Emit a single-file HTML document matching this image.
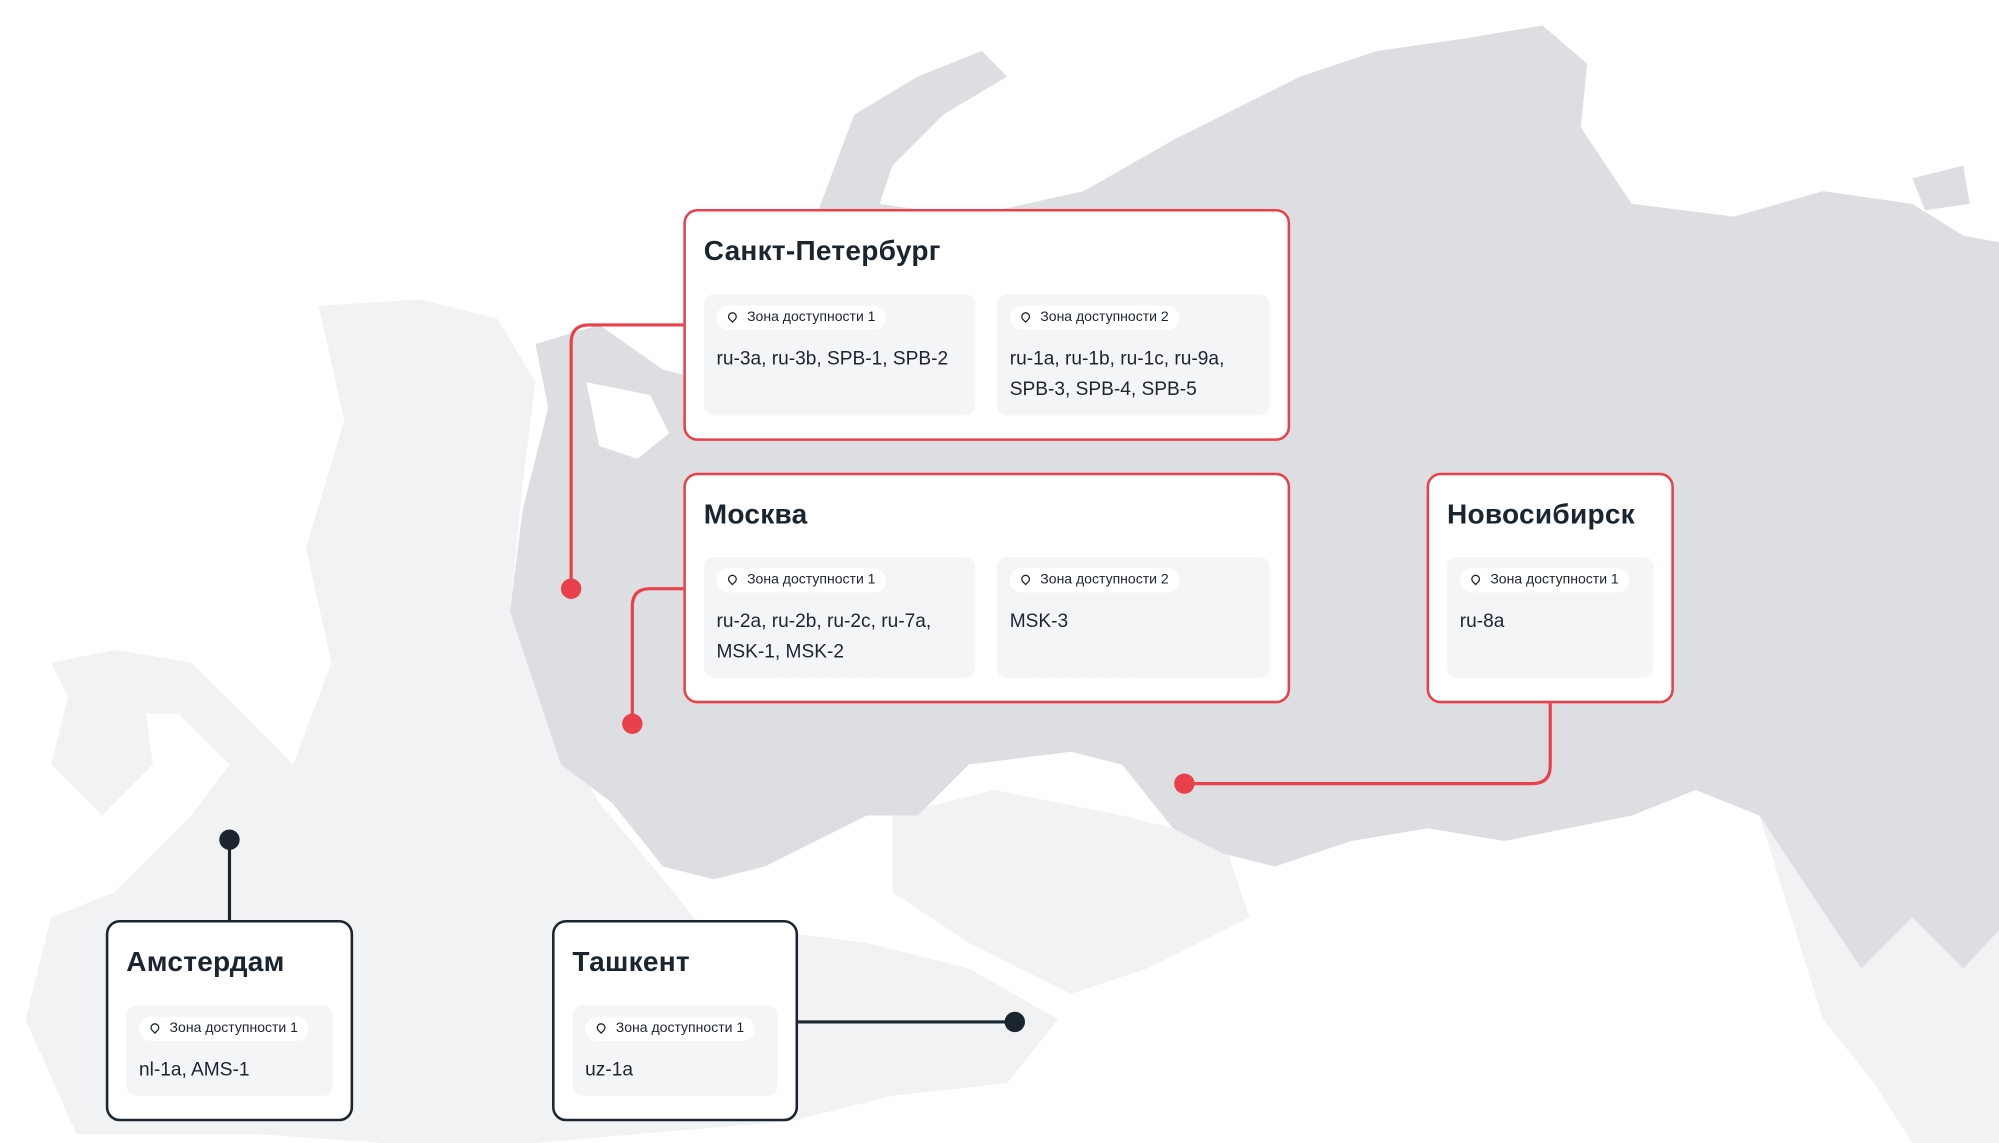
<!DOCTYPE html>
<html><head><meta charset="utf-8"><style>
html,body{margin:0;padding:0;background:#fff;overflow:hidden}
#w{width:1568px;height:897px;position:relative;transform:scale(1.27487,1.2742);transform-origin:0 0;font-family:"Liberation Sans","DejaVu Sans",sans-serif;color:#1a2530}
svg{position:absolute;left:0;top:0}
.box{position:absolute;background:#fff;border:2.5px solid #e8414b;border-radius:11px;box-sizing:border-box}
.dk{border-color:#1a2530}
.t{position:absolute;left:14px;top:18px;font-size:22px;font-weight:bold;letter-spacing:0.2px}
.c{position:absolute;background:#f4f5f7;border-radius:8px}
.p{position:absolute;left:10px;top:9px;height:19px;background:#fff;border-radius:10px;font-size:11px;line-height:19px;padding:0 8px 0 24px}
.p:before{content:"";position:absolute;left:9px;top:5px;width:5px;height:5px;border:1.3px solid #1a2530;border-radius:50% 50% 50% 0;transform:rotate(-45deg)}
.v{position:absolute;left:10px;top:39px;font-size:15px;line-height:24px}
</style></head><body><div id="w">
<svg width="1568" height="897" viewBox="0 0 1568 897">
<path fill="#f1f2f3" d="M1380,640 L1460,760 L1500,720 L1540,760 L1568,730 L1568,897 L1500,897 L1470,850 L1430,800 Z"/>
<path fill="#f1f2f3" d="M250,240 L330,235 L390,250 L420,300 L410,380 L400,480 L430,560 L470,630 L520,690 L560,740 L600,730 L680,740 L760,760 L830,800 L790,850 L700,860 L620,880 L500,890 L420,897 L300,897 L200,890 L60,890 L20,800 L40,720 L90,700 L150,640 L180,600 L140,560 L60,560 L40,520 L90,510 L150,520 L190,560 L230,600 L260,520 L240,430 L270,330 Z"/>
<path fill="#f1f2f3" d="M60,520 L110,530 L120,600 L80,640 L40,600 Z"/>
<path fill="#f1f2f3" d="M700,640 L780,620 L880,640 L960,660 L980,720 L900,760 L840,780 L760,740 L700,700 Z"/>
<path fill="#dcdee1" d="M420,270 L470,255 L520,290 L560,300 L600,240 L640,170 L670,90 L720,60 L770,40 L790,60 L740,90 L700,130 L690,160 L760,170 L850,150 L920,110 L980,80 L1020,60 L1080,40 L1150,30 L1210,20 L1245,50 L1240,100 L1280,160 L1360,170 L1430,150 L1500,160 L1540,185 L1568,190 L1568,730 L1540,760 L1500,720 L1460,760 L1420,700 L1380,640 L1330,620 L1280,640 L1230,650 L1180,660 L1120,650 L1060,660 L1000,680 L960,670 L920,650 L880,600 L840,590 L800,595 L760,600 L720,640 L680,640 L640,660 L600,680 L560,690 L520,680 L480,630 L440,600 L420,540 L400,480 L410,400 L430,320 Z"/>
<path fill="#dcdee1" d="M1500,140 L1540,130 L1545,160 L1510,165 Z"/>
<path fill="#fff" d="M460,300 L510,310 L525,340 L500,360 L470,350 Z"/>
<path fill="#f1f2f3" d="M380,250 L400,270 L410,330 L395,400 L360,440 L330,470 L300,420 L290,350 L320,280 Z"/>
<g fill="none" stroke="#e8414b" stroke-width="2.5">
<path d="M536,255 L462,255 Q448,255 448,269 L448,462"/>
<path d="M536,462 L510,462 Q496,462 496,476 L496,568"/>
<path d="M1216,552 L1216,601 Q1216,615 1202,615 L929,615"/>
</g>
<g fill="none" stroke="#1a2530" stroke-width="2.5">
<path d="M180,659 L180,722"/><path d="M626,802 L796,802"/>
</g>
<g fill="#e8414b"><circle cx="448" cy="462" r="8"/><circle cx="496" cy="568" r="8"/><circle cx="929" cy="615" r="8"/></g>
<g fill="#1a2530"><circle cx="180" cy="659" r="8"/><circle cx="796" cy="802" r="8"/></g>
</svg>

<div class="box" style="left:536px;top:164px;width:476px;height:182px"><div class="t">Санкт-Петербург</div>
<div class="c" style="left:14px;top:65px;width:213px;height:95px"><div class="p">Зона доступности 1</div><div class="v">ru-3a, ru-3b, SPB-1, SPB-2</div></div>
<div class="c" style="left:244px;top:65px;width:214px;height:95px"><div class="p">Зона доступности 2</div><div class="v">ru-1a, ru-1b, ru-1c, ru-9a,<br>SPB-3, SPB-4, SPB-5</div></div></div>

<div class="box" style="left:536px;top:371px;width:476px;height:181px"><div class="t">Москва</div>
<div class="c" style="left:14px;top:64px;width:213px;height:95px"><div class="p">Зона доступности 1</div><div class="v">ru-2a, ru-2b, ru-2c, ru-7a,<br>MSK-1, MSK-2</div></div>
<div class="c" style="left:244px;top:64px;width:214px;height:95px"><div class="p">Зона доступности 2</div><div class="v">MSK-3</div></div></div>

<div class="box" style="left:1119px;top:371px;width:194px;height:181px"><div class="t">Новосибирск</div>
<div class="c" style="left:14px;top:64px;width:162px;height:95px"><div class="p">Зона доступности 1</div><div class="v">ru-8a</div></div></div>

<div class="box dk" style="left:83px;top:722px;width:194px;height:158px"><div class="t">Амстердам</div>
<div class="c" style="left:14px;top:65px;width:162px;height:71px"><div class="p">Зона доступности 1</div><div class="v">nl-1a, AMS-1</div></div></div>

<div class="box dk" style="left:433px;top:722px;width:193px;height:158px"><div class="t">Ташкент</div>
<div class="c" style="left:14px;top:65px;width:161px;height:71px"><div class="p">Зона доступности 1</div><div class="v">uz-1a</div></div></div>
</div></body></html>
